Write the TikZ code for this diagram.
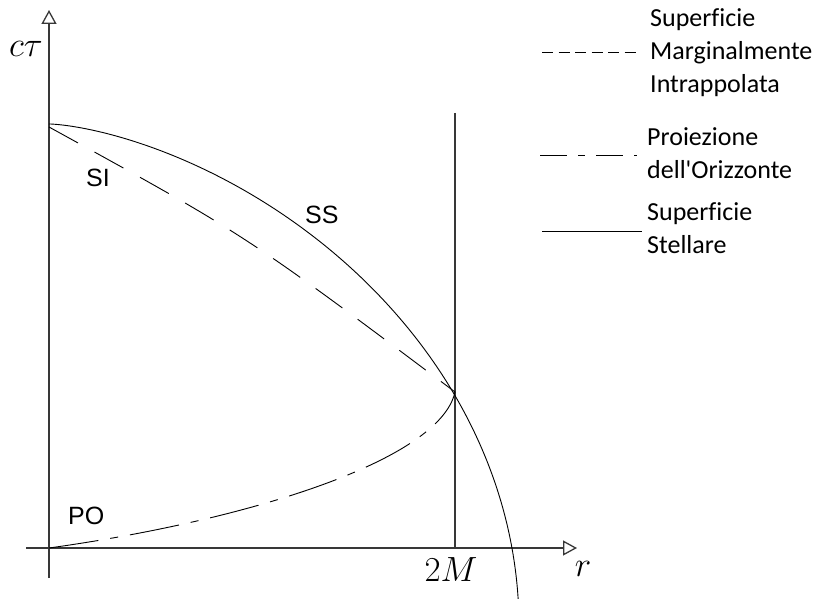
\documentclass[tikz,border=0pt]{standalone}
\usepackage{fontspec}
\newfontfamily\lblfont{Liberation Sans}
\newfontfamily\legfont[Ligatures=NoCommon]{Carlito}
\usetikzlibrary{arrows.meta}
\begin{document}
\begin{tikzpicture}[x=1pt,y=-1pt,
  axis/.style={line width=1.3pt, draw=black!78, -{Triangle[open,length=14pt,width=15pt]}},
  curve/.style={line width=0.9pt},
  simline/.style={curve, dash pattern=on 33pt off 19pt},
  poline/.style={curve, dash pattern=on 50pt off 12pt on 8pt off 12pt},
  lab/.style={font=\lblfont\fontsize{25}{30}\selectfont, inner sep=0pt, anchor=base west},
  leg/.style={font=\legfont\fontsize{26}{30}\selectfont, inner sep=0pt, anchor=base west},
  mth/.style={font=\Huge, scale=1.407, inner sep=0pt}]
\useasboundingbox (0,0) rectangle (821,599);
% axes
\coordinate (ybot) at (49,578);
\coordinate (ytop) at (49,10);
\coordinate (xl) at (26,548);
\coordinate (xr) at (577,548);
\draw[axis] (ybot) -- (ytop);
\draw[axis] (xl) -- (xr);
% r = 2M line
\coordinate (vtop) at (455,113);
\coordinate (vbot) at (455,548);
\draw[line width=1.3pt, black!78] (vtop) -- (vbot);
% curves
\coordinate (H) at (455,392);
\coordinate (SItop) at (49,127);
\coordinate (O) at (49,548);
\draw[simline] (SItop) .. controls (246.5,235.6) .. (H);
\draw[poline] (O) .. controls (250,520) and (440,460) .. (H);
\draw[curve] plot[variable=\t, domain=0.084:3.14159, samples=120, smooth]
  ({49+235*(1+cos(\t r))}, {626-159.8*(\t+sin(\t r))});
% labels
\node[mth] (ct) at (26,49) {$c\tau$};
\node[mth] (r) at (583,569) {$r$};
\node[mth] (twoM) at (451,570) {$2M$};
\node[lab] (SI) at (86,186) {SI};
\node[lab] (SS) at (305,223) {SS};
\node[lab] (PO) at (68,524) {PO};
% legend
\coordinate (l1a) at (542,52);
\coordinate (l1b) at (638,52);
\coordinate (l2a) at (540,155);
\coordinate (l2b) at (637,155);
\coordinate (l3a) at (542,231);
\coordinate (l3b) at (642,231);
\draw[curve, dash pattern=on 11pt off 5.5pt] (l1a) -- (l1b);
\draw[curve, dash pattern=on 27pt off 11pt on 7pt off 11pt] (l2a) -- (l2b);
\draw[curve] (l3a) -- (l3b);
\node[leg] (t1) at (650,27) {Superficie};
\node[leg] (t2) at (650,60) {Marginalmente};
\node[leg] (t3) at (650,93) {Intrappolata};
\node[leg] (t4) at (647,145) {Proiezione};
\node[leg] (t5) at (647,178) {dell'Orizzonte};
\node[leg] (t6) at (647,220) {Superficie};
\node[leg] (t7) at (647,253) {Stellare};
\end{tikzpicture}
\end{document}
